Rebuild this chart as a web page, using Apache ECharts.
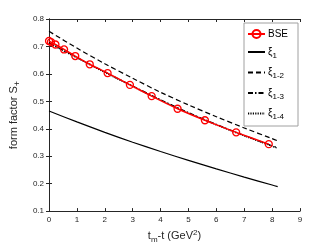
<!DOCTYPE html>
<html><head><meta charset="utf-8">
<script src="https://cdn.jsdelivr.net/npm/echarts@6/dist/echarts.min.js"></script>
<style>html,body{margin:0;padding:0;background:#fff}#c{width:332px;height:249px}</style>
</head><body><div id="c"></div>
<script>
// BSE points
const bseX = [0, 0.07, 0.23, 0.54, 0.94, 1.46, 2.10, 2.90, 3.68, 4.61, 5.59, 6.71, 7.88];
const bseY = [0.720, 0.716, 0.707, 0.689, 0.665, 0.635, 0.603, 0.560, 0.519, 0.473, 0.431, 0.387, 0.344];
// fit curves
const fitX   = [0, 1, 2, 3, 4, 5, 6, 7, 8, 8.2];
const xi1    = [0.465, 0.425, 0.387, 0.351, 0.317, 0.285, 0.254, 0.224, 0.195, 0.189];
const xi12   = [0.755, 0.694, 0.637, 0.584, 0.533, 0.487, 0.444, 0.403, 0.364, 0.356];
const xi13   = [0.714, 0.660, 0.607, 0.556, 0.506, 0.459, 0.416, 0.376, 0.338, 0.331];
const xi14   = [0.712, 0.658, 0.605, 0.554, 0.504, 0.457, 0.414, 0.374, 0.336, 0.329];
const xTicks = [0,1,2,3,4,5,6,7,8,9];
const yTicks = [0.1,0.2,0.3,0.4,0.5,0.6,0.7,0.8];

const pair = (xs, ys) => xs.map((x, i) => [x, ys[i]]);
const FONT = 'Liberation Sans';
const AX = '#262626';
const chart = echarts.init(document.getElementById('c'));
const legendNames = {'BSE':'BSE','xi1':'{g|ξ}{s|1}','xi12':'{g|ξ}{s|1-2}','xi13':'{g|ξ}{s|1-3}','xi14':'{g|ξ}{s|1-4}'};
const hidden = {opacity: 0};
const baseAxis = {
  axisLine: {show: true, lineStyle: {color: AX, width: 1}},
  axisTick: {show: true, inside: true, length: 3, lineStyle: {color: AX}},
  splitLine: {show: false}
};
chart.setOption({
  animation: false,
  textStyle: {fontFamily: FONT},
  grid: {left: 43, right: 32, top: 19, bottom: 35},
  legend: {
    left: 244, top: 23, orient: 'vertical',
    padding: [6, 10, 5, 3], itemGap: 8, itemWidth: 17, itemHeight: 10,
    borderColor: '#a0a0a0', borderWidth: 1, backgroundColor: '#fff',
    textStyle: {fontFamily: FONT, fontSize: 10, color: '#000', padding: [0,0,0,-2],
      rich: {g: {fontSize: 10, fontFamily: FONT, color: '#000'}, s: {fontSize: 8, fontFamily: FONT, color: '#000', padding: [7,0,0,0]}}},
    formatter: n => legendNames[n],
    data: [
      {name: 'BSE'},
      {name: 'xi1', itemStyle: hidden},
      {name: 'xi12', itemStyle: hidden},
      {name: 'xi13', itemStyle: hidden},
      {name: 'xi14', itemStyle: hidden}
    ]
  },
  xAxis: [
    Object.assign({}, baseAxis, {
      type: 'value', min: 0, max: 9, interval: 1,
      axisLabel: {fontSize: 8, color: AX, margin: 5, fontFamily: FONT, formatter: v => xTicks.includes(v) ? String(v) : ''},
      name: '{n|t}{s|m}{n|-t (GeV}{p|2}{n|)}', nameLocation: 'middle', nameGap: 11,
      nameTextStyle: {rich: {n: {fontSize: 11, fontFamily: FONT, color: AX}, s: {fontSize: 8, fontFamily: FONT, color: AX, padding: [8,0,0,0]}, p: {fontSize: 8, fontFamily: FONT, color: AX, padding: [0,0,6,0]}}}
    }),
    Object.assign({}, baseAxis, {type: 'value', position: 'top', min: 0, max: 9, interval: 1, axisLabel: {show: false}})
  ],
  yAxis: [
    Object.assign({}, baseAxis, {
      type: 'value', min: 0.1, max: 0.8, interval: 0.1,
      axisLabel: {fontSize: 8, color: AX, margin: 5, fontFamily: FONT, formatter: v => { const r = Math.round(v*10)/10; return yTicks.includes(r) ? r.toFixed(1) : ''; }},
      name: '{n|form factor S}{s|+}', nameLocation: 'middle', nameGap: 21, nameRotate: 90,
      nameTextStyle: {rich: {n: {fontSize: 11, fontFamily: FONT, color: AX}, s: {fontSize: 9, fontFamily: FONT, color: AX, padding: [8,0,0,0]}}}
    }),
    Object.assign({}, baseAxis, {type: 'value', position: 'right', min: 0.1, max: 0.8, interval: 0.1, axisLabel: {show: false}})
  ],
  series: [
    {name: 'xi1', type: 'line', data: pair(fitX, xi1), smooth: 0.3, symbol: 'none', lineStyle: {color: '#000', width: 1.2, type: 'solid'}, itemStyle: {color: '#000'}},
    {name: 'xi12', type: 'line', data: pair(fitX, xi12), smooth: 0.3, symbol: 'none', lineStyle: {color: '#000', width: 1.2, type: [5, 3]}, itemStyle: {color: '#000'}},
    {name: 'xi13', type: 'line', data: pair(fitX, xi13), smooth: 0.3, symbol: 'none', lineStyle: {color: '#000', width: 1.2, type: [5, 2, 1.5, 2]}, itemStyle: {color: '#000'}},
    {name: 'xi14', type: 'line', data: pair(fitX, xi14), smooth: 0.3, symbol: 'none', lineStyle: {color: '#000', width: 1.2, type: [1.2, 1.2]}, itemStyle: {color: '#000'}},
    {name: 'BSE', type: 'line', data: pair(bseX, bseY), smooth: 0.2, symbol: 'circle', symbolSize: 7, showAllSymbol: true,
      lineStyle: {color: '#ff0000', width: 1.5}, itemStyle: {color: 'rgba(255,255,255,0)', borderColor: '#ff0000', borderWidth: 1.3}, z: 5}
  ]
});
</script></body></html>
